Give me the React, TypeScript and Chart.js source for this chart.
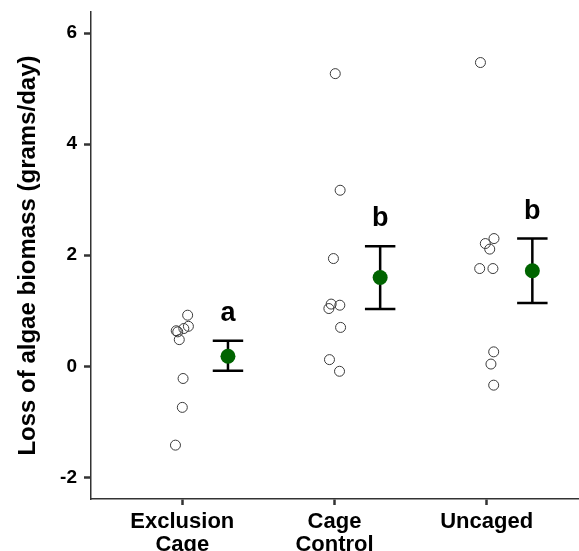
import React, { useEffect, useRef } from "react";
import { Chart, registerables } from "chart.js";

Chart.register(...registerables);

// Categories and tick labels
const categories = ["Exclusion Cage", "Cage Control", "Uncaged"];
const categoryLabels: (string | string[])[] = [["Exclusion", "Cage"], ["Cage", "Control"], "Uncaged"];
const yTicks = [-2, 0, 2, 4, 6];

// Raw observations (value) and their horizontal jitter (offset from category centre)
const exclusionValues = [0.92, 0.72, 0.68, 0.64, 0.62, 0.48, -0.22, -0.74, -1.42];
const exclusionJitter = [0.035, 0.04, 0.01, -0.04, -0.03, -0.02, 0.005, 0.0, -0.045];
const controlValues = [5.27, 3.17, 1.94, 1.12, 1.04, 1.1, 0.7, 0.12, -0.09];
const controlJitter = [0.005, 0.037, -0.007, -0.022, -0.037, 0.035, 0.04, -0.033, 0.033];
const uncagedValues = [5.47, 2.3, 2.21, 2.11, 1.76, 1.76, 0.26, 0.04, -0.34];
const uncagedJitter = [-0.041, 0.048, -0.009, 0.02, -0.046, 0.041, 0.046, 0.028, 0.046];

// Group means with error bar limits
const means = [0.18, 1.6, 1.72];
const upper = [0.46, 2.16, 2.3];
const lower = [-0.08, 1.03, 1.14];
const meanOffset = 0.3;

// Significance letters
const letters = ["a", "b", "b"];
const letterY = [0.95, 2.66, 2.78];

const FONT = "'Liberation Sans', Arial, Helvetica, sans-serif";

export default function App() {
  const ref = useRef<HTMLCanvasElement | null>(null);

  useEffect(() => {
    document.body.style.margin = "0";
    const canvas = ref.current;
    if (!canvas) return;

    const groups = [
      { v: exclusionValues, j: exclusionJitter },
      { v: controlValues, j: controlJitter },
      { v: uncagedValues, j: uncagedJitter },
    ];
    const rawPoints = groups.flatMap((g, gi) =>
      g.v.map((val, i) => ({ x: gi + 1 + g.j[i], y: val }))
    );
    const meanPoints = means.map((m, i) => ({ x: i + 1 + meanOffset, y: m }));

    const errorBarPlugin = {
      id: "errorBars",
      beforeDatasetsDraw(chart: any) {
        const { ctx, scales } = chart;
        const xs = scales.x;
        const ys = scales.y;
        ctx.save();
        ctx.strokeStyle = "#000000";
        ctx.lineWidth = 2.5;
        ctx.lineCap = "butt";
        means.forEach((_, i) => {
          const cx = xs.getPixelForValue(i + 1 + meanOffset);
          const x0 = xs.getPixelForValue(i + 1 + meanOffset - 0.1);
          const x1 = xs.getPixelForValue(i + 1 + meanOffset + 0.1);
          const yu = ys.getPixelForValue(upper[i]);
          const yl = ys.getPixelForValue(lower[i]);
          ctx.beginPath();
          ctx.moveTo(cx, yu);
          ctx.lineTo(cx, yl);
          ctx.moveTo(x0, yu);
          ctx.lineTo(x1, yu);
          ctx.moveTo(x0, yl);
          ctx.lineTo(x1, yl);
          ctx.stroke();
        });
        ctx.restore();
      },
      afterDatasetsDraw(chart: any) {
        const { ctx, scales } = chart;
        ctx.save();
        ctx.fillStyle = "#000000";
        ctx.font = `bold 27px ${FONT}`;
        ctx.textAlign = "center";
        ctx.textBaseline = "middle";
        letters.forEach((l, i) => {
          ctx.fillText(
            l,
            scales.x.getPixelForValue(i + 1 + meanOffset),
            scales.y.getPixelForValue(letterY[i])
          );
        });
        ctx.restore();
      },
    };

    const chart = new Chart(canvas, {
      type: "scatter",
      data: {
        datasets: [
          {
            label: "Observations",
            data: rawPoints,
            pointRadius: 5,
            pointHoverRadius: 5,
            pointBackgroundColor: "rgba(0,0,0,0)",
            pointBorderColor: "#3a3a3a",
            pointBorderWidth: 1,
          },
          {
            label: "Mean",
            data: meanPoints,
            pointRadius: 7.5,
            pointHoverRadius: 7.5,
            pointBackgroundColor: "#006400",
            pointBorderColor: "#006400",
            pointBorderWidth: 0,
          },
        ],
      },
      options: {
        animation: false,
        responsive: false,
        events: [],
        layout: { padding: { top: 12, right: 1, left: 0, bottom: 0 } },
        plugins: {
          legend: { display: false },
          tooltip: { enabled: false },
        },
        scales: {
          x: {
            type: "linear",
            min: 0.4,
            max: 3.6,
            afterBuildTicks: (scale: any) => {
              scale.ticks = categories.map((_, i) => ({ value: i + 1 }));
            },
            afterFit: (scale: any) => {
              scale.height = 52;
              scale.paddingLeft = 0;
              scale.paddingRight = 0;
            },
            ticks: {
              autoSkip: false,
              maxRotation: 0,
              minRotation: 0,
              padding: 5,
              color: "#000000",
              font: { family: FONT, size: 22, weight: "bold", lineHeight: 1.06 },
              callback: (v: any) => categoryLabels[Math.round(Number(v)) - 1] ?? "",
            },
            grid: {
              drawOnChartArea: false,
              drawTicks: true,
              tickLength: 6,
              tickColor: "#333333",
              tickWidth: 2.5,
            },
            border: { display: true, color: "#333333", width: 1.5 },
          },
          y: {
            type: "linear",
            min: -2.39,
            max: 6.38,
            afterBuildTicks: (scale: any) => {
              scale.ticks = yTicks.map((v) => ({ value: v }));
            },
            afterFit: (scale: any) => {
              scale.width = 91;
              scale.paddingTop = 0;
              scale.paddingBottom = 0;
              scale.paddingLeft = 0;
              scale.paddingRight = 0;
            },
            ticks: {
              padding: 7,
              color: "#000000",
              font: { family: FONT, size: 19, weight: "bold" },
              callback: (v: any) => String(v),
            },
            grid: {
              drawOnChartArea: false,
              drawTicks: true,
              tickLength: 7,
              tickColor: "#333333",
              tickWidth: 2.5,
            },
            border: { display: true, color: "#333333", width: 1.5 },
            title: {
              display: true,
              text: "Loss of algae biomass (grams/day)",
              color: "#000000",
              font: { family: FONT, size: 24, weight: "bold" },
              padding: { top: 14, bottom: 0 },
            },
          },
        },
      },
      plugins: [
        errorBarPlugin,
        {
          id: "fixArea",
          beforeLayout(chart: any) {
            chart.options.layout.padding = { top: 12, right: 1, left: 0, bottom: 0 };
          },
          afterLayout(chart: any) {
            // keep the plot panel flush with the right edge like the reference
            const area = chart.chartArea;
            const target = 578;
            if (area.right !== target) {
              const xs = chart.scales.x;
              area.right = target;
              area.width = area.right - area.left;
              xs.right = target;
              xs.width = xs.right - xs.left;
              xs.configure();
            }
          },
        },
      ],
    });

    return () => chart.destroy();
  }, []);

  return (
    <div style={{ position: "absolute", left: 0, top: 0, width: 579, height: 551 }}>
      <canvas ref={ref} width={579} height={551} />
    </div>
  );
}
